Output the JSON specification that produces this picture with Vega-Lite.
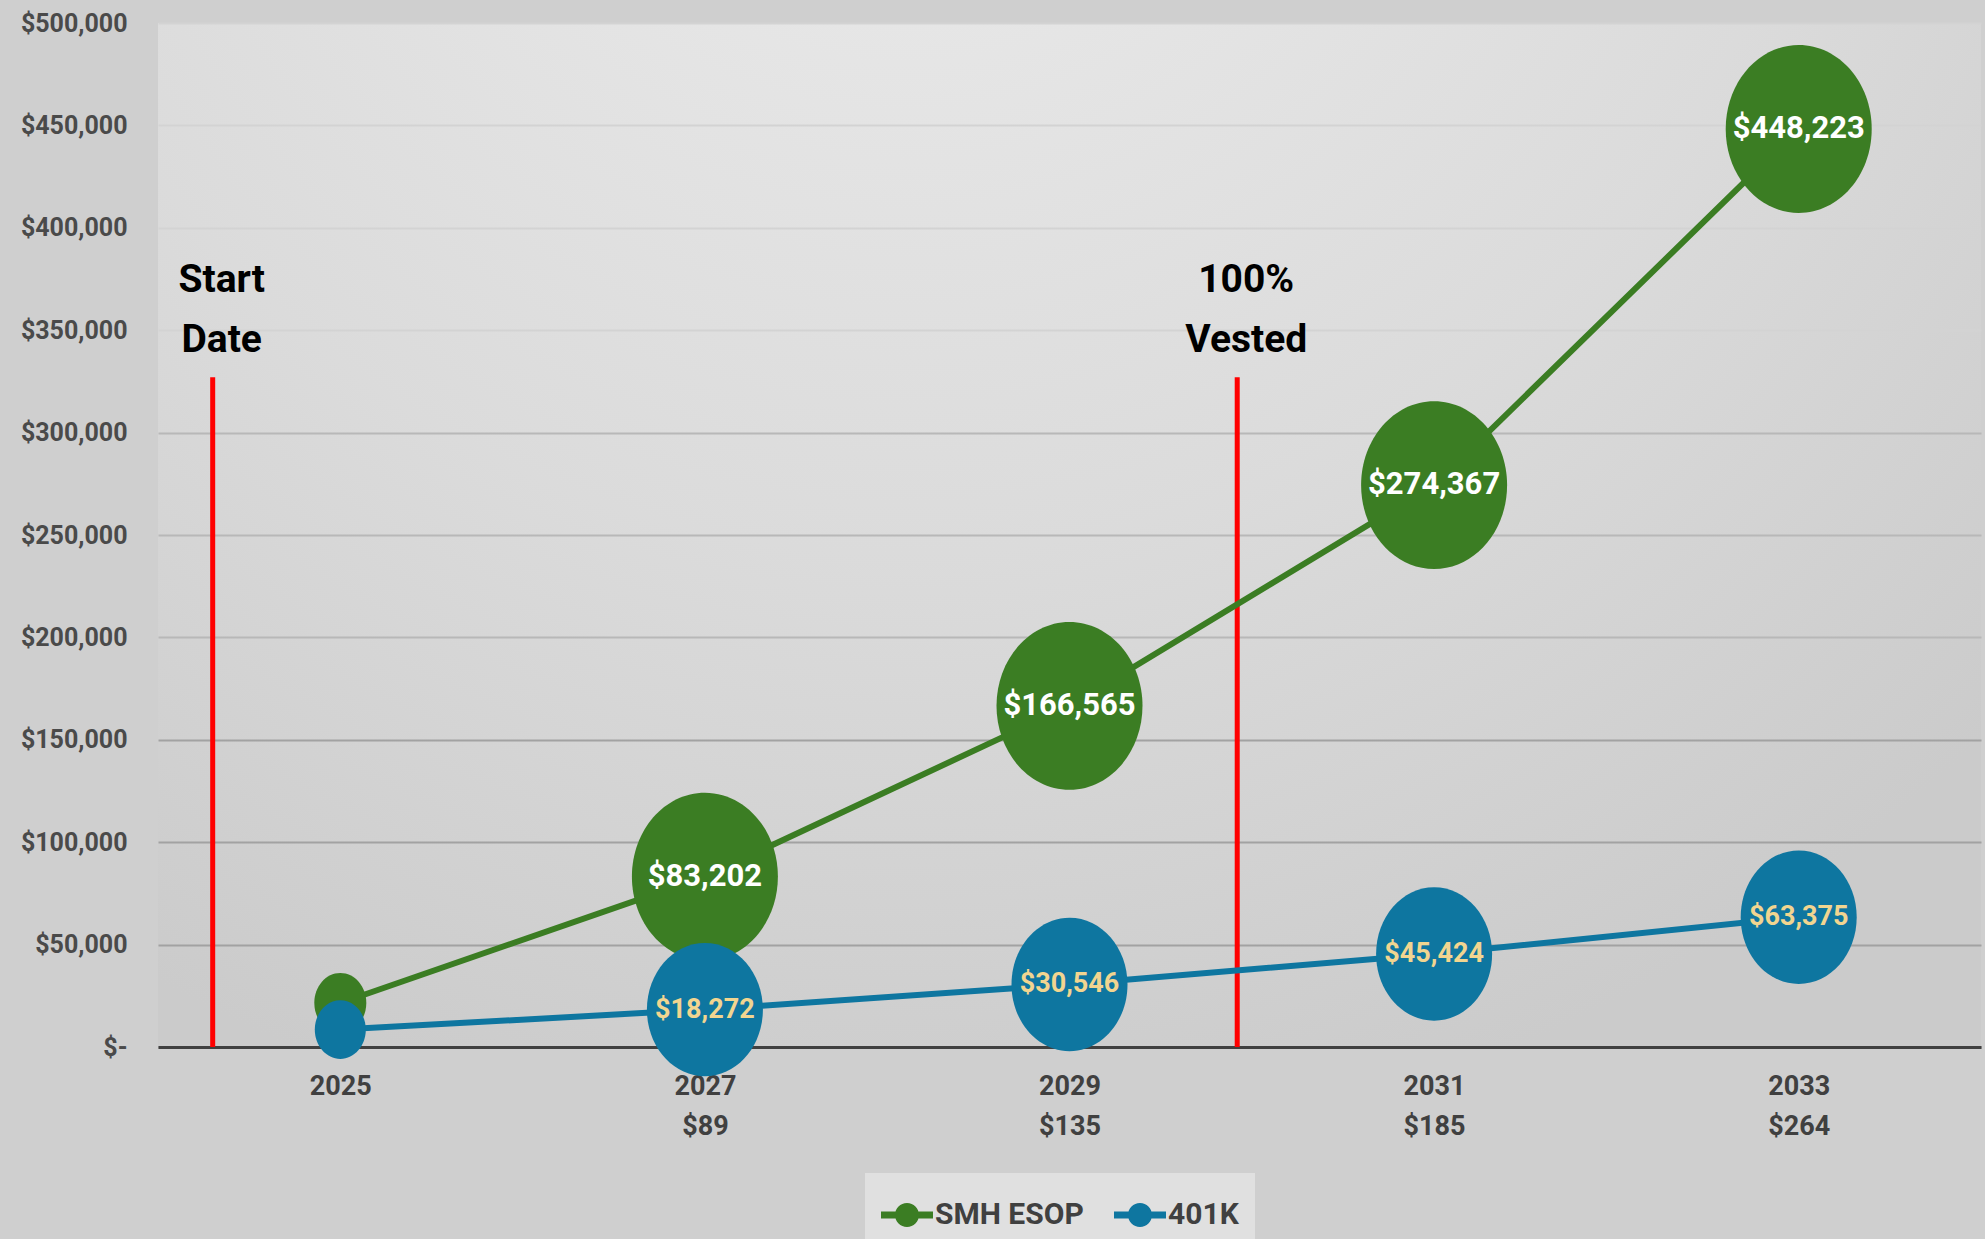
{
  "$schema": "https://vega.github.io/schema/vega-lite/v6.json",
  "width": 1823,
  "height": 1024,
  "autosize": {"type": "none"},
  "padding": {"left": 158, "top": 23, "right": 4, "bottom": 192},
  "background": "#cfcfcf",
  "config": {
    "view": {
      "stroke": null,
      "fill": {
        "gradient": "radial",
        "x1": 0.41, "y1": 0, "r1": 0,
        "x2": 0.41, "y2": 0, "r2": 0.85,
        "stops": [
          {"offset": 0, "color": "#eeeeee"},
          {"offset": 0.6, "color": "#dbdbdb"},
          {"offset": 1, "color": "#cbcbcb"}
        ]
      }
    },
    "legend": {
      "title": null,
      "orient": "none",
      "legendX": 707,
      "legendY": 1150,
      "direction": "horizontal",
      "symbolType": "M-1,-0.13 L1,-0.13 L1,0.13 L-1,0.13 Z M0.46,0 C0.46,0.254 0.254,0.46 0,0.46 C-0.254,0.46 -0.46,0.254 -0.46,0 C-0.46,-0.254 -0.254,-0.46 0,-0.46 C0.254,-0.46 0.46,-0.254 0.46,0 Z",
      "symbolSize": 2704,
      "symbolStrokeWidth": 0,
      "symbolOpacity": 1,
      "labelFont": "Roboto",
      "labelFontSize": 30,
      "labelFontWeight": "bold",
      "labelColor": "#404040",
      "labelOffset": 2,
      "columnPadding": 30,
      "padding": 16,
      "fillColor": "#e0e0e0"
    }
  },
  "datasets": {
    "growth": [
      {"year": 2025, "series": "SMH ESOP", "value": 21500},
      {"year": 2027, "series": "SMH ESOP", "value": 83202},
      {"year": 2029, "series": "SMH ESOP", "value": 166565},
      {"year": 2031, "series": "SMH ESOP", "value": 274367},
      {"year": 2033, "series": "SMH ESOP", "value": 448223},
      {"year": 2025, "series": "401K", "value": 8500},
      {"year": 2027, "series": "401K", "value": 18272},
      {"year": 2029, "series": "401K", "value": 30546},
      {"year": 2031, "series": "401K", "value": 45424},
      {"year": 2033, "series": "401K", "value": 63375}
    ],
    "events": [
      {"event": "Start\nDate", "year": 2024.3, "top": 327000},
      {"event": "100%\nVested", "year": 2029.92, "top": 327000}
    ]
  },
  "layer": [
    {
      "data": {"name": "events"},
      "mark": {"type": "rule", "color": "#FF0000", "strokeWidth": 5},
      "encoding": {
        "x": {
          "field": "year", "type": "quantitative",
          "scale": {"domain": [2024, 2034], "nice": false, "zero": false},
          "axis": {
            "title": null,
            "values": [2025, 2027, 2029, 2031, 2033],
            "labelExpr": "datum.value == 2027 ? ['2027', '$89'] : datum.value == 2029 ? ['2029', '$135'] : datum.value == 2031 ? ['2031', '$185'] : datum.value == 2033 ? ['2033', '$264'] : '2025'",
            "ticks": false,
            "grid": false,
            "domainColor": "#404040",
            "domainWidth": 3,
            "labelFont": "Roboto",
            "labelFontSize": 27,
            "labelFontWeight": "bold",
            "labelColor": "#404040",
            "labelPadding": 26,
            "labelLineHeight": 40,
            "labelFlush": false,
            "labelOverlap": false
          }
        },
        "y": {
          "field": "top", "type": "quantitative",
          "scale": {"domain": [0, 500000], "nice": false},
          "axis": {
            "title": null,
            "values": [0, 50000, 100000, 150000, 200000, 250000, 300000, 350000, 400000, 450000, 500000],
            "labelExpr": "datum.value == 0 ? '$-\u00a0\u00a0' : format(datum.value, '$,')",
            "domain": false,
            "ticks": false,
            "grid": true,
            "gridWidth": 2,
            "gridColor": {
              "condition": [
                {"test": "datum.value <= 150000", "value": "#a2a2a2"},
                {"test": "datum.value <= 300000", "value": "#b8b8b8"}
              ],
              "value": "#d3d3d3"
            },
            "labelFont": "Roboto",
            "labelFontSize": 25,
            "labelFontWeight": "bold",
            "labelColor": "#4a4a4a",
            "labelPadding": 31
          }
        },
        "y2": {"datum": 0}
      }
    },
    {
      "data": {"name": "events"},
      "mark": {
        "type": "text",
        "font": "Roboto",
        "fontSize": 39,
        "fontWeight": "bold",
        "color": "#000000",
        "lineBreak": "\n",
        "lineHeight": 60,
        "align": "center",
        "baseline": "bottom",
        "dx": 9,
        "dy": -77
      },
      "encoding": {
        "x": {"field": "year", "type": "quantitative"},
        "y": {"field": "top", "type": "quantitative"},
        "text": {"field": "event"}
      }
    },
    {
      "data": {"name": "growth"},
      "mark": {"type": "line", "strokeWidth": 6},
      "encoding": {
        "x": {"field": "year", "type": "quantitative"},
        "y": {"field": "value", "type": "quantitative"},
        "color": {
          "field": "series", "type": "nominal",
          "scale": {"domain": ["SMH ESOP", "401K"], "range": ["#3B7D23", "#0E76A0"]},
          "legend": {
            "orient": "none", "legendX": 707, "legendY": 1150,
            "encode": {"symbols": {"update": {"fill": {"scale": "color", "field": "value"}, "stroke": {"value": "transparent"}, "strokeWidth": {"value": 0}, "opacity": {"value": 1}}}}
          }
        },
        "detail": {"field": "series"}
      }
    },
    {
      "data": {"name": "growth"},
      "transform": [{"filter": "datum.series == 'SMH ESOP'"}],
      "mark": {
        "type": "point",
        "filled": true,
        "opacity": 1,
        "strokeWidth": 0,
        "shape": "M1,0 C1,0.635 0.552,1.15 0,1.15 C-0.552,1.15 -1,0.635 -1,0 C-1,-0.635 -0.552,-1.15 0,-1.15 C0.552,-1.15 1,-0.635 1,0 Z"
      },
      "encoding": {
        "x": {"field": "year", "type": "quantitative"},
        "y": {"field": "value", "type": "quantitative"},
        "color": {
          "field": "series", "type": "nominal",
          "scale": {"domain": ["SMH ESOP", "401K"], "range": ["#3B7D23", "#0E76A0"]},
          "legend": {
            "orient": "none", "legendX": 707, "legendY": 1150,
            "encode": {"symbols": {"update": {"fill": {"scale": "color", "field": "value"}, "stroke": {"value": "transparent"}, "strokeWidth": {"value": 0}, "opacity": {"value": 1}}}}
          }
        },
        "size": {"condition": {"test": "datum.year == 2025", "value": 2704}, "value": 21316}
      }
    },
    {
      "data": {"name": "growth"},
      "transform": [{"filter": "datum.series == '401K'"}],
      "mark": {
        "type": "point",
        "filled": true,
        "opacity": 1,
        "strokeWidth": 0,
        "shape": "M1,0 C1,0.635 0.552,1.15 0,1.15 C-0.552,1.15 -1,0.635 -1,0 C-1,-0.635 -0.552,-1.15 0,-1.15 C0.552,-1.15 1,-0.635 1,0 Z"
      },
      "encoding": {
        "x": {"field": "year", "type": "quantitative"},
        "y": {"field": "value", "type": "quantitative"},
        "color": {
          "field": "series", "type": "nominal",
          "scale": {"domain": ["SMH ESOP", "401K"], "range": ["#3B7D23", "#0E76A0"]},
          "legend": {
            "orient": "none", "legendX": 707, "legendY": 1150,
            "encode": {"symbols": {"update": {"fill": {"scale": "color", "field": "value"}, "stroke": {"value": "transparent"}, "strokeWidth": {"value": 0}, "opacity": {"value": 1}}}}
          }
        },
        "size": {"condition": {"test": "datum.year == 2025", "value": 2601}, "value": 13456}
      }
    },
    {
      "data": {"name": "growth"},
      "transform": [{"filter": "datum.year != 2025"}],
      "mark": {
        "type": "text",
        "font": "Roboto",
        "fontWeight": "bold",
        "align": "center",
        "baseline": "middle"
      },
      "encoding": {
        "x": {"field": "year", "type": "quantitative"},
        "y": {"field": "value", "type": "quantitative"},
        "text": {"field": "value", "type": "quantitative", "format": "$,"},
        "color": {"condition": {"test": "datum.series == 'SMH ESOP'", "value": "#FFFFFF"}, "value": "#F1D590"},
        "size": {"condition": {"test": "datum.series == 'SMH ESOP'", "value": 31}, "value": 27}
      }
    }
  ]
}
